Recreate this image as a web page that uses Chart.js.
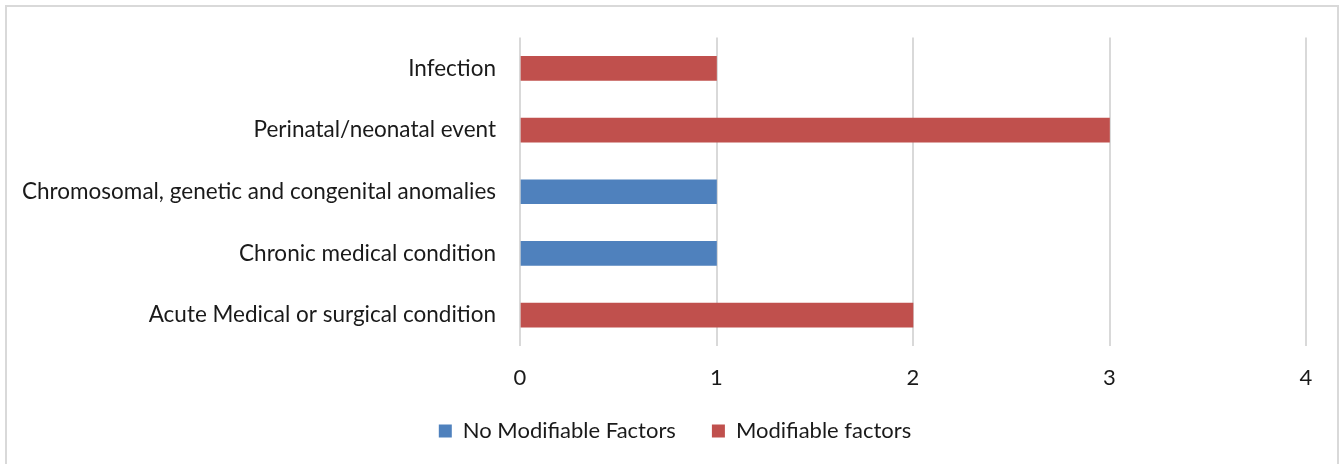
<!DOCTYPE html>
<html>
<head>
<meta charset="utf-8">
<script src="https://cdn.jsdelivr.net/npm/chart.js@4.4.0/dist/chart.umd.min.js"></script>
<style>
  html, body { margin: 0; padding: 0; background: #fff; }
  .frame {
    position: absolute; left: 5px; top: 5px;
    width: 1334px; height: 470px;
    border: 2px solid #d9d9d9;
    box-sizing: border-box;
  }
  .wrap { position: absolute; left: 0; top: 0; width: 1344px; height: 464px; }
</style>
</head>
<body>
<div class="frame"></div>
<div class="wrap"><canvas id="causesChart" width="1344" height="464"></canvas></div>
<script>
document.addEventListener('DOMContentLoaded', () => {

    const categories = [
        'Infection',
        'Perinatal/neonatal event',
        'Chromosomal, genetic and congenital anomalies',
        'Chronic medical condition',
        'Acute Medical or surgical condition'
    ];
    const noModifiable = [null, null, 1, 1, null];
    const modifiable = [1, 3, null, null, 2];
    const xTicks = [0, 1, 2, 3, 4];

    const fontFamily = "Lato, 'Open Sans', sans-serif";
    const textColor = '#1a1a1a';
    const gridColor = '#d9d9d9';

    // nudge the legend so it sits centred under the whole frame
    const legendNudge = {
        id: 'legendNudge',
        afterLayout(chart) {
            const lg = chart.legend;
            lg.left += 17; lg.right += 17;
            lg.top -= 12; lg.bottom -= 12;
        }
    };

    const ctx = document.getElementById('causesChart').getContext('2d');
    new Chart(ctx, {
        type: 'bar',
        data: {
            labels: categories,
            datasets: [{
                label: 'No Modifiable Factors',
                data: noModifiable,
                backgroundColor: '#4f81bd',
                barThickness: 24
            }, {
                label: 'Modifiable factors',
                data: modifiable,
                backgroundColor: '#c0504d',
                barThickness: 24
            }]
        },
        options: {
            indexAxis: 'y',
            responsive: false,
            animation: false,
            layout: { padding: { top: 34, right: 38, left: 10, bottom: 0 } },
            plugins: {
                tooltip: { enabled: false },
                legend: {
                    position: 'bottom',
                    labels: {
                        color: textColor,
                        boxWidth: 13,
                        boxHeight: 13,
                        padding: 36,
                        font: { family: fontFamily, size: 22 }
                    }
                }
            },
            scales: {
                x: {
                    stacked: true,
                    min: 0,
                    max: 4,
                    afterFit: (scale) => { scale.height = 50; },
                    afterBuildTicks: (scale) => { scale.ticks = xTicks.map(v => ({ value: v })); },
                    ticks: {
                        color: textColor,
                        padding: 19,
                        font: { family: fontFamily, size: 22 }
                    },
                    grid: { color: gridColor, lineWidth: 2, drawTicks: false },
                    border: { display: false }
                },
                y: {
                    stacked: true,
                    afterFit: (scale) => { scale.width = 510; },
                    ticks: {
                        color: textColor,
                        padding: 24,
                        font: { family: fontFamily, size: 22.5 }
                    },
                    grid: { display: false, drawTicks: false },
                    border: { display: false }
                }
            }
        },
        plugins: [legendNudge]
    });
});
</script>
</body>
</html>
